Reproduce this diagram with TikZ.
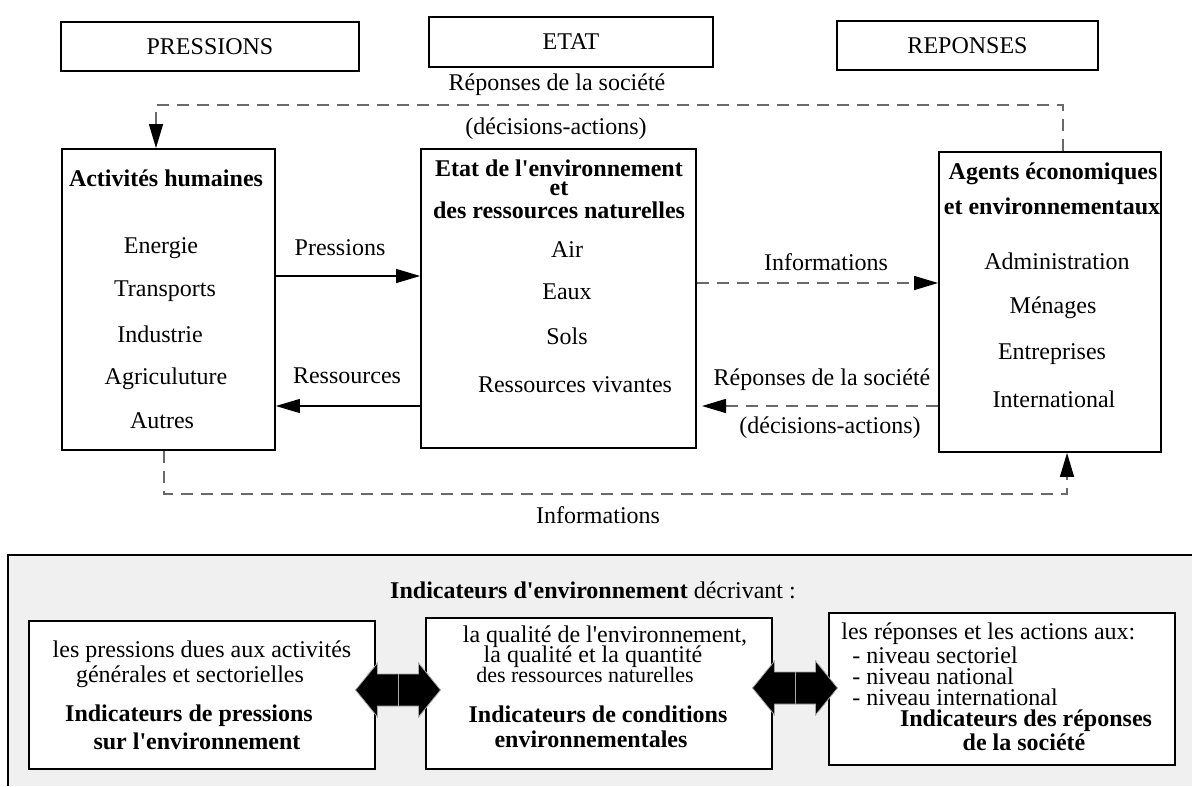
\documentclass[tikz,border=0pt]{standalone}
\usepackage{fontspec}
\setmainfont{Liberation Serif}
\usetikzlibrary{arrows.meta,fit}
\definecolor{panelgrey}{HTML}{F0F0F0}
\definecolor{dashgrey}{HTML}{6A6A6A}
\newcommand{\ap}{\textquotesingle}
\begin{document}
\begin{tikzpicture}[x=0.5pt,y=-0.5pt,
  box/.style={draw=black,line width=0.9pt,inner sep=0pt,fill=white},
  lbl/.style={inner sep=0pt,font=\fontsize{12}{14}\selectfont},
  small/.style={inner sep=0pt,font=\fontsize{11}{13}\selectfont},
  bld/.style={inner sep=0pt,font=\fontsize{12}{14}\selectfont\bfseries},
  arr/.style={line width=0.6pt,-{Triangle[length=12pt,width=7pt,black]}},
  dsh/.style={draw=dashgrey,line width=0.7pt,dash pattern=on 6pt off 4pt,-{Triangle[length=12pt,width=7pt,black]}}]
\useasboundingbox (0,0) rectangle (1192,786);
\fill[white] (0,0) rectangle (1192,786);

% header boxes
\node[box,fit={(61,22)(359,71)}] (HP) {};
\node[lbl] (hpt) at (HP.center) {PRESSIONS};
\node[box,fit={(429,17)(713,67)}] (HE) {};
\node[lbl] (het) at (HE.center) {ETAT};
\node[box,fit={(837,21)(1098,70)}] (HR) {};
\node[lbl] (hrt) at (HR.center) {REPONSES};

% main boxes
\node[box,fit={(62,149)(275,450)}] (L) {};
\node[box,fit={(421,149)(696,448)}] (M) {};
\node[box,fit={(939,152)(1161,452)}] (R) {};

% left box text
\node[bld] (l0) at (166,178) {Activités humaines};
\node[lbl] (l1) at (161,248) {Energie};
\node[lbl] (l2) at (165,291) {Transports};
\node[lbl] (l3) at (160,334) {Industrie};
\node[lbl] (l4) at (166,379) {Agriculuture};
\node[lbl] (l5) at (162,421) {Autres};

% middle box text
\node[bld] (m0) at (559,168) {Etat de l\ap environnement};
\node[bld] (m1) at (559,189) {et};
\node[bld] (m2) at (559,210) {des ressources naturelles};
\node[lbl] (m3) at (567,250) {Air};
\node[lbl] (m4) at (567,292) {Eaux};
\node[lbl] (m5) at (567,336) {Sols};
\node[lbl] (m6) at (575,385) {Ressources vivantes};

% right box text
\node[bld] (r0) at (1053,174) {Agents économiques};
\node[bld] (r1) at (1052,206) {et environnementaux};
\node[lbl] (r2) at (1057,261) {Administration};
\node[lbl] (r3) at (1053,308) {Ménages};
\node[lbl] (r4) at (1052,354) {Entreprises};
\node[lbl] (r5) at (1054,399) {International};

% horizontal connectors
\coordinate (pY) at (0,276);
\coordinate (rY) at (0,406);
\coordinate (iY) at (0,283);
\coordinate (sTip) at (702,406);
\draw[arr] (L.east |- pY) -- (M.west |- pY);
\node[lbl] (pl) at (340,248) {Pressions};
\draw[arr] (M.west |- rY) -- (L.east |- rY);
\node[lbl] (rl) at (347,376) {Ressources};
\draw[dsh] (M.east |- iY) -- (R.west |- iY);
\node[lbl] (il) at (826,262) {Informations};
\draw[dsh] (R.west |- rY) -- (sTip);
\node[lbl] (sl) at (822,380) {Réponses de la société};
\node[lbl] (sl2) at (830,428) {(décisions-actions)};

% top loop
\coordinate (tl) at (156,105);
\coordinate (tr) at (1063,105);
\draw[dsh] (R.north -| tr) -- (tr) -- (tl) -- (L.north -| tl);
\node[lbl] (tl1) at (557,85) {Réponses de la société};
\node[lbl] (tl2) at (556,129) {(décisions-actions)};

% bottom loop
\coordinate (b1) at (164,494);
\coordinate (b2) at (1067,494);
\draw[dsh] (L.south -| b1) -- (b1) -- (b2) -- (R.south -| b2);
\node[lbl] (bl) at (598,515) {Informations};

% indicator panel
\fill[panelgrey] (8,555) rectangle (1192,786);
\draw[line width=0.9pt] (8,786) -- (8,555) -- (1192,555);
\node[lbl] (pt) at (593,590) {\textbf{Indicateurs d\ap environnement} décrivant :};

\node[box,fit={(29,621)(375,769)}] (B1) {};
\node[box,fit={(426,618)(772,769)}] (B2) {};
\node[box,fit={(829,613)(1175,765)}] (B3) {};

\node[lbl] (b1a) at (202,652) {les pressions dues aux activités};
\node[lbl] (b1b) at (190,677) {générales et sectorielles};
\node[bld] (b1c) at (189,716) {Indicateurs de pressions};
\node[bld] (b1d) at (197,741) {sur l\ap environnement};

\node[lbl] (b2a) at (605,637) {la qualité de l\ap environnement,};
\node[lbl] (b2b) at (593,657) {la qualité et la quantité};
\node[small] (b2c) at (585,675) {des ressources naturelles};
\node[bld] (b2d) at (598,714) {Indicateurs de conditions};
\node[bld] (b2e) at (591,739) {environnementales};

\node[lbl,anchor=west] (b3a) at (841,634) {les réponses et les actions aux:};
\node[lbl,anchor=west] (b3b) at (852,655) {- niveau sectoriel};
\node[lbl,anchor=west] (b3c) at (852,676) {- niveau national};
\node[lbl,anchor=west] (b3d) at (852,697) {- niveau international};
\node[bld] (b3e) at (1026,721) {Indicateurs des réponses};
\node[bld] (b3f) at (1024,742) {de la société};

% double arrows
\foreach \cx/\cy in {398/690, 795/688}{
  \begin{scope}[shift={(\cx,\cy)}]
    \fill[black] (-42.5,0) -- (-20.5,-27) -- (-20.5,-16) -- (20.5,-16) -- (20.5,-27)
      -- (42.5,0) -- (20.5,27) -- (20.5,16) -- (-20.5,16) -- (-20.5,27) -- cycle;
    \draw[gray!70,line width=0.4pt] (-42.5,0) -- (-20.5,-27) -- (-20.5,-16) -- (20.5,-16) -- (20.5,-27)
      -- (42.5,0) -- (20.5,27) -- (20.5,16) -- (-20.5,16) -- (-20.5,27) -- cycle;
    \draw[gray!70,line width=0.5pt] (0,-16) -- (0,16);
  \end{scope}
}
\end{tikzpicture}
\end{document}
